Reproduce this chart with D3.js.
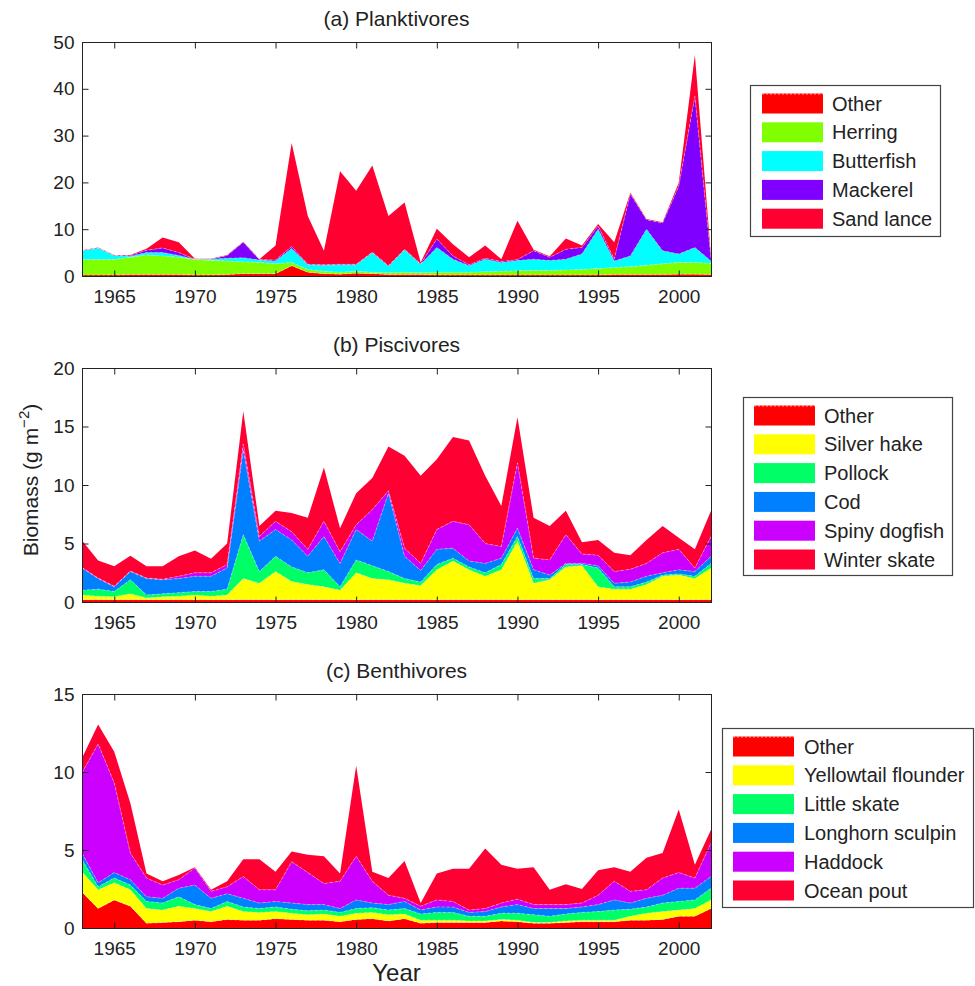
<!DOCTYPE html>
<html>
<head>
<meta charset="utf-8">
<script src="https://cdn.jsdelivr.net/npm/d3@7"></script>
<style>
  html, body { margin: 0; padding: 0; background: #fff; }
  svg { display: block; font-family: "Liberation Sans", Arial, Helvetica, sans-serif; }
</style>
</head>
<body>
<svg id="chart" width="975" height="986"></svg>
<script>
// Survey years
const years = [1963,1964,1965,1966,1967,1968,1969,1970,1971,1972,
               1973,1974,1975,1976,1977,1978,1979,1980,1981,1982,
               1983,1984,1985,1986,1987,1988,1989,1990,1991,1992,
               1993,1994,1995,1996,1997,1998,1999,2000,2001,2002];

// (a) Planktivores, biomass g m^-2 per species (stacked bottom to top)
const plankOther     = [0.2,0.2,0.2,0.3,0.3,0.3,0.3,0.2,0.2,0.3, 0.5,0.5,0.5,2.2,0.8,0.5,0.4,0.6,0.5,0.3, 0.3,0.3,0.2,0.2,0.2,0.2,0.2,0.2,0.2,0.2, 0.2,0.2,0.2,0.3,0.3,0.3,0.3,0.4,0.4,0.3];
const plankHerring   = [3.3,3.3,3.3,3.7,4.2,4.0,3.7,3.3,3.1,2.9, 2.5,2.4,2.1,0.7,0.6,0.5,0.4,0.4,0.3,0.4, 0.5,0.4,0.6,0.6,0.6,0.7,0.8,0.9,1.0,1.0, 1.1,1.2,1.4,1.5,1.7,2.0,2.3,2.5,2.5,2.4];
const plankButterfish= [1.9,2.5,0.9,0.2,0.5,0.7,0.4,0.1,0.3,0.6, 0.9,0.5,0.6,3.0,1.0,1.3,1.6,1.4,4.2,1.4, 4.8,1.8,5.3,2.8,1.4,2.7,1.9,2.2,2.4,2.1, 2.3,3.3,8.4,1.4,2.3,7.7,2.8,1.8,3.2,0.5];
const plankMackerel  = [0.0,0.0,0.0,0.2,0.5,1.0,0.6,0.0,0.0,0.6, 3.3,0.1,0.2,0.4,0.1,0.1,0.1,0.1,0.1,0.1, 0.1,0.1,1.8,0.7,0.2,0.2,0.2,0.2,1.8,0.7, 2.1,1.4,0.7,0.4,13.2,2.0,5.9,14.5,32.3,0.4];
const plankSandLance = [0.1,0.1,0.1,0.1,0.3,2.2,2.2,0.1,0.1,0.1, 0.1,0.1,3.1,22.1,10.3,3.0,19.9,15.7,18.5,10.6, 10.0,0.3,2.2,2.5,1.6,2.7,0.5,8.3,0.2,0.2, 2.3,0.4,0.4,3.6,0.3,0.2,0.2,0.7,8.8,0.7];

// (b) Piscivores
const pisOther       = [0.2,0.2,0.2,0.2,0.2,0.2,0.2,0.2,0.2,0.2, 0.2,0.2,0.2,0.2,0.2,0.2,0.2,0.2,0.2,0.2, 0.2,0.2,0.2,0.2,0.2,0.2,0.2,0.2,0.2,0.2, 0.2,0.2,0.2,0.2,0.2,0.2,0.2,0.2,0.2,0.2];
const pisSilverHake  = [0.4,0.3,0.25,0.5,0.15,0.25,0.3,0.4,0.3,0.4, 1.8,1.4,2.4,1.55,1.3,1.1,0.8,2.3,1.8,1.7, 1.4,1.2,2.55,3.3,2.55,2.0,2.55,5.0,1.4,1.7, 2.8,2.9,1.1,0.9,0.9,1.3,2.0,2.1,1.8,2.7];
const pisPollock     = [0.4,0.6,0.45,1.2,0.25,0.25,0.3,0.3,0.4,0.5, 3.75,1.0,1.3,1.25,1.0,1.45,0.3,1.1,1.1,0.7, 0.4,0.3,0.45,0.25,0.25,0.3,0.45,0.4,0.4,0.1, 0.2,0.1,1.6,0.2,0.2,0.2,0.1,0.1,0.2,0.4];
const pisCod         = [1.9,0.9,0.4,0.7,1.4,1.2,1.2,1.3,1.3,1.8, 7.25,2.6,2.3,2.3,1.4,2.85,2.0,2.6,2.1,6.7, 1.9,1.0,1.3,0.85,0.5,0.8,0.55,0.7,0.75,0.3, 0.1,0.1,0.2,0.3,0.4,0.5,0.2,0.35,0.4,0.6];
const pisDogfish     = [0.05,0.05,0.05,0.05,0.05,0.05,0.2,0.3,0.3,0.3, 0.5,0.4,0.7,0.7,0.6,1.3,1.0,0.4,2.7,0.2, 0.7,0.6,1.7,2.3,3.1,1.7,1.0,5.6,1.0,1.3, 2.45,0.8,0.9,1.0,1.1,1.1,1.7,1.75,0.3,1.7];
const pisWinterSkate = [2.3,1.5,1.7,1.3,1.0,1.1,1.7,1.9,1.2,1.8, 2.8,0.9,0.9,1.6,2.7,4.6,2.0,2.7,2.7,3.8, 7.9,7.5,6.0,7.2,7.2,5.8,3.45,3.9,3.45,2.9, 2.05,1.0,1.3,1.6,1.2,2.0,2.3,1.0,1.6,2.2];

// (c) Benthivores
const benOther       = [2.3,1.25,1.8,1.4,0.3,0.35,0.4,0.5,0.4,0.55, 0.5,0.5,0.6,0.55,0.5,0.5,0.4,0.55,0.6,0.45, 0.6,0.3,0.35,0.35,0.35,0.35,0.45,0.4,0.3,0.3, 0.35,0.4,0.4,0.4,0.5,0.5,0.55,0.75,0.75,1.25];
const benYellowtail  = [1.3,1.2,1.1,1.05,0.95,0.8,1.0,0.75,0.65,0.85, 0.55,0.5,0.45,0.4,0.35,0.4,0.35,0.4,0.4,0.4, 0.3,0.2,0.15,0.15,0.1,0.1,0.1,0.1,0.05,0.05, 0.1,0.1,0.1,0.1,0.25,0.45,0.5,0.4,0.5,0.55];
const benLittleSkate = [0.8,0.2,0.3,0.3,0.45,0.45,0.6,0.25,0.2,0.3, 0.3,0.25,0.3,0.25,0.25,0.25,0.25,0.3,0.3,0.3, 0.35,0.4,0.5,0.5,0.3,0.3,0.4,0.45,0.5,0.4, 0.45,0.5,0.55,0.65,0.45,0.4,0.55,0.55,0.55,0.75];
const benLonghorn    = [0.4,0.25,0.35,0.35,0.3,0.3,0.55,1.25,0.65,0.5, 0.55,0.35,0.35,0.4,0.4,0.35,0.25,0.55,0.3,0.35, 0.45,0.25,0.35,0.35,0.25,0.3,0.4,0.55,0.4,0.5, 0.35,0.35,0.45,0.65,0.4,0.55,0.5,0.85,0.75,0.75];
const benHaddock     = [5.15,8.9,5.75,1.7,1.2,0.85,0.55,1.1,0.45,0.45, 1.4,0.85,0.75,2.65,2.05,1.35,1.75,2.8,1.4,0.6, 0.2,0.25,0.45,0.35,0.15,0.2,0.25,0.35,0.25,0.25, 0.25,0.25,0.6,1.2,0.75,0.55,1.1,1.0,0.65,2.15];
const benOceanPout   = [0.95,1.25,2.0,3.2,0.3,0.25,0.3,0.05,0.1,0.35, 1.1,1.95,1.15,0.65,1.15,1.75,0.5,5.8,0.6,1.1, 2.4,0.2,1.7,2.1,2.65,3.85,2.45,1.95,2.4,0.95, 1.3,0.9,1.6,0.9,1.25,2.05,1.6,4.05,0.85,0.85];

// Axis ticks
const xTicks = [1965,1970,1975,1980,1985,1990,1995,2000];
const yTicksA = [0,10,20,30,40,50];
const yTicksB = [0,5,10,15,20];
const yTicksC = [0,5,10,15];

const panels = [
  {
    title: "(a) Planktivores", top: 42, ymax: 50, ticks: yTicksA,
    names:  ["Other","Herring","Butterfish","Mackerel","Sand lance"],
    series: [plankOther, plankHerring, plankButterfish, plankMackerel, plankSandLance],
    colors: ["#ff0000","#80ff00","#00ffff","#8000ff","#ff0030"],
    legend: {x: 750, y: 85, w: 190, h: 151, sw: 762, tx: 832}
  },
  {
    title: "(b) Piscivores", top: 368, ymax: 20, ticks: yTicksB,
    names:  ["Other","Silver hake","Pollock","Cod","Spiny dogfish","Winter skate"],
    series: [pisOther, pisSilverHake, pisPollock, pisCod, pisDogfish, pisWinterSkate],
    colors: ["#ff0000","#ffff00","#00ff66","#0080ff","#cc00ff","#ff0033"],
    legend: {x: 743, y: 397, w: 209, h: 178, sw: 754, tx: 824}
  },
  {
    title: "(c) Benthivores", top: 694, ymax: 15, ticks: yTicksC,
    names:  ["Other","Yellowtail flounder","Little skate","Longhorn sculpin","Haddock","Ocean pout"],
    series: [benOther, benYellowtail, benLittleSkate, benLonghorn, benHaddock, benOceanPout],
    colors: ["#ff0000","#ffff00","#00ff66","#0080ff","#cc00ff","#ff0033"],
    legend: {x: 722, y: 728, w: 251, h: 179, sw: 733, tx: 804}
  }
];

const svg = d3.select("#chart");
const left = 82, right = 711, plotH = 234;
const x = d3.scaleLinear().domain([1963, 2002]).range([left, right]);
const tickLen = 6;
const fontSize = 19;

panels.forEach(p => {
  const y = d3.scaleLinear().domain([0, p.ymax]).range([p.top + plotH, p.top]);
  const rows = years.map((yr, i) => {
    const r = {year: yr};
    p.names.forEach((n, k) => r[n] = p.series[k][i]);
    return r;
  });
  const stacked = d3.stack().keys(p.names)(rows);
  const area = d3.area()
    .x(d => x(d.data.year))
    .y0(d => y(d[0]))
    .y1(d => y(d[1]));
  const topLine = d3.line()
    .x(d => x(d.data.year))
    .y(d => y(d[1]));

  const g = svg.append("g");
  g.selectAll("path.layer")
    .data(stacked)
    .join("path")
    .attr("class", "layer")
    .attr("fill", (d, i) => p.colors[i])
    .attr("d", area);
  // faint light seam along the top of each layer
  g.selectAll("path.seam")
    .data(stacked.slice(0, -1))
    .join("path")
    .attr("class", "seam")
    .attr("fill", "none")
    .attr("stroke", "rgba(255,255,255,0.45)")
    .attr("stroke-width", 0.8)
    .attr("stroke-dasharray", "3,2")
    .attr("d", topLine);

  // frame
  g.append("rect")
    .attr("x", left + 0.5).attr("y", p.top + 0.5)
    .attr("width", right - left).attr("height", plotH)
    .attr("fill", "none").attr("stroke", "#222").attr("stroke-width", 1);

  // bottom & top ticks (inward)
  const xb = d3.axisBottom(x).tickValues(xTicks).tickFormat(d3.format("d"))
    .tickSizeInner(-tickLen).tickSizeOuter(0).tickPadding(13);
  const xa = g.append("g").attr("transform", `translate(0,${p.top + plotH + 0.5})`).call(xb);
  const xt = d3.axisTop(x).tickValues(xTicks).tickFormat("")
    .tickSizeInner(-tickLen).tickSizeOuter(0);
  const xa2 = g.append("g").attr("transform", `translate(0,${p.top + 0.5})`).call(xt);

  // left & right ticks (inward)
  const yl = d3.axisLeft(y).tickValues(p.ticks).tickFormat(d3.format("d"))
    .tickSizeInner(-tickLen).tickSizeOuter(0).tickPadding(8);
  const ya = g.append("g").attr("transform", `translate(${left + 0.5},0)`).call(yl);
  const yr = d3.axisRight(y).tickValues(p.ticks).tickFormat("")
    .tickSizeInner(-tickLen).tickSizeOuter(0);
  const ya2 = g.append("g").attr("transform", `translate(${right + 0.5},0)`).call(yr);

  [xa, xa2, ya, ya2].forEach(a => {
    a.select(".domain").remove();
    a.selectAll("line").attr("stroke", "#222");
    a.selectAll("text").attr("fill", "#222")
      .style("font-size", fontSize + "px").style("font-family", "Liberation Sans, Arial, sans-serif");
  });

  // title
  svg.append("text")
    .attr("x", (left + right) / 2).attr("y", p.top - 16)
    .attr("text-anchor", "middle").attr("fill", "#222")
    .style("font-size", "21px")
    .text(p.title);

  // legend
  const L = p.legend;
  const lg = svg.append("g");
  lg.append("rect")
    .attr("x", L.x + 0.5).attr("y", L.y + 0.5).attr("width", L.w).attr("height", L.h)
    .attr("fill", "#fff").attr("stroke", "#444").attr("stroke-width", 1.2);
  const rowH = 28.8;
  const firstRow = L.y + 18.5;
  p.names.forEach((n, i) => {
    const cy = firstRow + i * rowH;
    lg.append("rect")
      .attr("x", L.sw).attr("y", cy - 10).attr("width", 61).attr("height", 20)
      .attr("fill", p.colors[i]);
    if (i === 0) {
      // dotted top edge on the first swatch
      lg.append("line")
        .attr("x1", L.sw).attr("x2", L.sw + 61)
        .attr("y1", cy - 9.5).attr("y2", cy - 9.5)
        .attr("stroke", "rgba(255,255,255,0.6)").attr("stroke-width", 1)
        .attr("stroke-dasharray", "2,2");
    }
    lg.append("text")
      .attr("x", L.tx).attr("y", cy + 7)
      .attr("fill", "#222")
      .style("font-size", "20px")
      .text(n);
  });
});

// axis labels
svg.append("text")
  .attr("x", (left + right) / 2).attr("y", 981)
  .attr("text-anchor", "middle").attr("fill", "#222")
  .style("font-size", "24px")
  .text("Year");

const ylab = svg.append("text")
  .attr("transform", "translate(38,480) rotate(-90)")
  .attr("text-anchor", "middle").attr("fill", "#222")
  .style("font-size", "21px");
ylab.append("tspan").text("Biomass (g m");
ylab.append("tspan").attr("dy", -9).style("font-size", "15px").text("−2");
ylab.append("tspan").attr("dy", 9).text(")");
</script>
</body>
</html>
